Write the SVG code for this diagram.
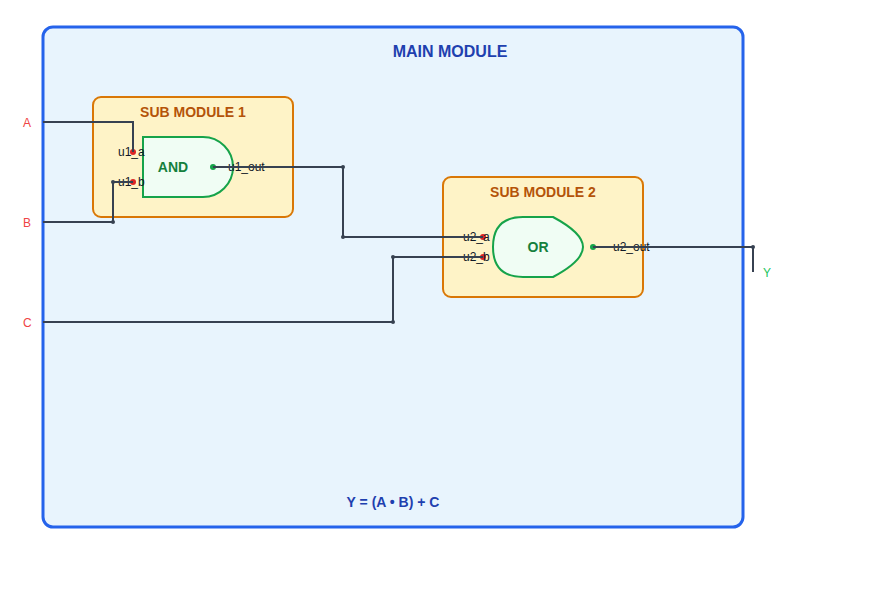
<svg xmlns="http://www.w3.org/2000/svg" width="870" height="596" viewBox="0 0 870 596">
<style>
text{font-family:"Liberation Sans",Arial,sans-serif}
.sub{fill:#fef3c7;stroke:#d97706;stroke-width:2}
.subt{font-size:14px;font-weight:bold;fill:#b45309;text-anchor:middle}
.gate{fill:#f0fdf4;stroke:#16a34a;stroke-width:2}
.gatet{font-size:14px;font-weight:bold;fill:#15803d;text-anchor:middle}
.port{font-size:12px;fill:#111827}
.in{fill:#dc2626}
.out{fill:#16a34a}
.wire{fill:none;stroke:#374151;stroke-width:2}
.j{fill:#374151}
.ext{font-size:12px}
</style>
<g id="main-module">
<rect x="43" y="27" width="700" height="500" rx="10" ry="10" fill="#e8f4fd" stroke="#2563eb" stroke-width="3"/>
<text x="450" y="57" font-size="16" font-weight="bold" fill="#1e40af" text-anchor="middle">MAIN MODULE</text>
<text x="393" y="507" font-size="14" font-weight="bold" fill="#1e40af" text-anchor="middle">Y = (A • B) + C</text>
</g>
<g id="input-a"><text class="ext" x="23" y="127" fill="#ef4444">A</text></g>
<g id="input-b"><text class="ext" x="23" y="227" fill="#ef4444">B</text></g>
<g id="input-c"><text class="ext" x="23" y="327" fill="#ef4444">C</text></g>
<g id="output-y"><text class="ext" x="763" y="277" fill="#22c55e">Y</text></g>
<g id="sub-module-1">
<rect class="sub" x="93" y="97" width="200" height="120" rx="8" ry="8"/>
<text class="subt" x="193" y="117">SUB MODULE 1</text>
<path id="and-gate" class="gate" d="M143 137H203A30 30 0 0 1 203 197H143Z"/>
<text class="gatet" x="173" y="172">AND</text>
<circle class="in" cx="133" cy="152" r="3"/>
<circle class="in" cx="133" cy="182" r="3"/>
<circle class="out" cx="213" cy="167" r="3"/>
<text class="port" x="118" y="156">u1_a</text>
<text class="port" x="118" y="186">u1_b</text>
<text class="port" x="228" y="171">u1_out</text>
</g>
<g id="sub-module-2">
<rect class="sub" x="443" y="177" width="200" height="120" rx="8" ry="8"/>
<text class="subt" x="543" y="197">SUB MODULE 2</text>
<path id="or-gate" class="gate" d="M493 247C493 227 503 217 523 217H553C568 225 583 235 583 247C583 259 568 269 553 277H523C503 277 493 267 493 247Z"/>
<text class="gatet" x="538" y="252">OR</text>
<circle class="in" cx="483" cy="237" r="3"/>
<circle class="in" cx="483" cy="257" r="3"/>
<circle class="out" cx="593" cy="247" r="3"/>
<text class="port" x="463" y="241">u2_a</text>
<text class="port" x="463" y="261">u2_b</text>
<text class="port" x="613" y="251">u2_out</text>
</g>
<g id="connectors">
<path class="wire" d="M43 122H133V152"/>
<path class="wire" d="M43 222H113V182H133"/>
<path class="wire" d="M213 167H343V237H483"/>
<path class="wire" d="M43 322H393V257H483"/>
<path class="wire" d="M593 247H753V272"/>
<circle class="j" cx="113" cy="222" r="2"/>
<circle class="j" cx="113" cy="182" r="2"/>
<circle class="j" cx="343" cy="167" r="2"/>
<circle class="j" cx="343" cy="237" r="2"/>
<circle class="j" cx="393" cy="322" r="2"/>
<circle class="j" cx="393" cy="257" r="2"/>
<circle class="j" cx="753" cy="247" r="2"/>
</g>
</svg>
